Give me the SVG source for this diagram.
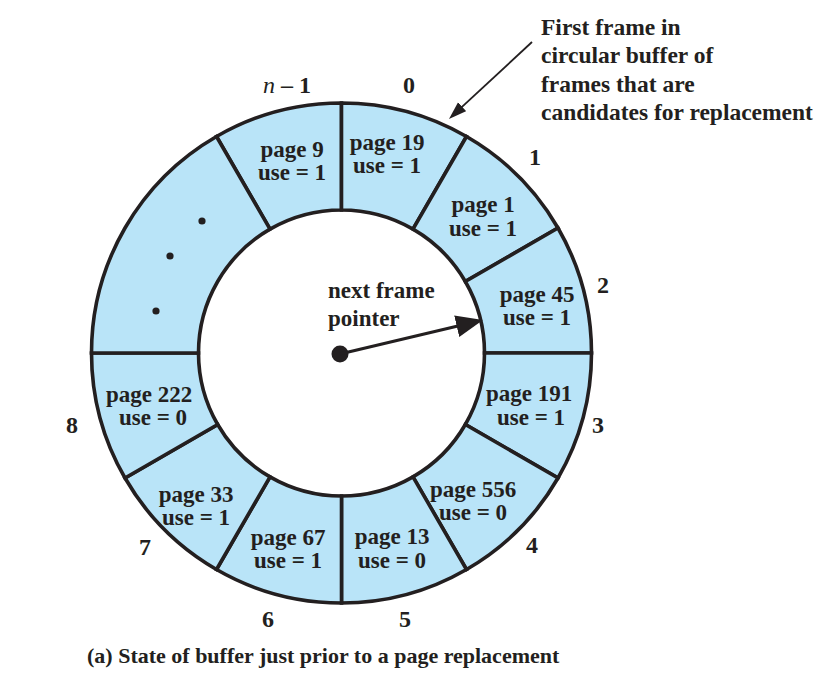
<svg xmlns="http://www.w3.org/2000/svg" width="833" height="681" viewBox="0 0 833 681">
<style>
.seg{fill:#b9e4f8;stroke:#231f20;stroke-width:3.6;stroke-linejoin:miter}
text{font-family:"Liberation Serif","Times New Roman",serif;font-weight:bold;fill:#231f20;font-size:23px}
.c{text-anchor:middle}
.num{text-anchor:middle;font-size:24px}
.ann{font-size:23.5px}
.cap{font-size:22px}
.line{stroke:#231f20;fill:none}
</style>
<defs>
<marker id="bigHead" markerUnits="userSpaceOnUse" markerWidth="28" markerHeight="24" refX="12" refY="11" orient="auto">
<path d="M0,0 L27,11 L0,22 Z" fill="#231f20"/>
</marker>
<marker id="smallHead" markerUnits="userSpaceOnUse" markerWidth="20" markerHeight="14" refX="8" refY="6" orient="auto">
<path d="M0,0 L18,6 L0,12 Z" fill="#231f20"/>
</marker>
</defs>
<rect width="833" height="681" fill="#ffffff"/>

<g id="frame-n-1">
<path class="seg" d="M216.5,136.5 A250,250 0 0 1 341.5,103 L341.5,210 A143,143 0 0 0 270,229.16 Z"/>
<text class="c" x="292" y="157">page 9</text>
<text class="c" x="292" y="180">use = 1</text>
<text class="num" x="287" y="93"><tspan font-style="italic" font-weight="normal">n</tspan> – 1</text>
</g>
<g id="frame-0">
<path class="seg" d="M341.5,103 A250,250 0 0 1 466.5,136.5 L413,229.16 A143,143 0 0 0 341.5,210 Z"/>
<text class="c" x="387" y="149.5">page 19</text>
<text class="c" x="387" y="172.5">use = 1</text>
<text class="num" x="409" y="93">0</text>
</g>
<g id="frame-1">
<path class="seg" d="M466.5,136.5 A250,250 0 0 1 558,228 L465.34,281.5 A143,143 0 0 0 413,229.16 Z"/>
<text class="c" x="483" y="212">page 1</text>
<text class="c" x="483" y="236">use = 1</text>
<text class="num" x="535" y="165">1</text>
</g>
<g id="frame-2">
<path class="seg" d="M558,228 A250,250 0 0 1 591.5,353 L484.5,353 A143,143 0 0 0 465.34,281.5 Z"/>
<text class="c" x="537" y="302">page 45</text>
<text class="c" x="537" y="325">use = 1</text>
<text class="num" x="603" y="293">2</text>
</g>
<g id="frame-3">
<path class="seg" d="M591.5,353 A250,250 0 0 1 558,478 L465.34,424.5 A143,143 0 0 0 484.5,353 Z"/>
<text class="c" x="529" y="401">page 191</text>
<text class="c" x="531" y="425">use = 1</text>
<text class="num" x="598" y="433">3</text>
</g>
<g id="frame-4">
<path class="seg" d="M558,478 A250,250 0 0 1 466.5,569.5 L413,476.84 A143,143 0 0 0 465.34,424.5 Z"/>
<text class="c" x="473" y="497">page 556</text>
<text class="c" x="473" y="520">use = 0</text>
<text class="num" x="532" y="553">4</text>
</g>
<g id="frame-5">
<path class="seg" d="M466.5,569.5 A250,250 0 0 1 341.5,603 L341.5,496 A143,143 0 0 0 413,476.84 Z"/>
<text class="c" x="392" y="544">page 13</text>
<text class="c" x="392" y="568">use = 0</text>
<text class="num" x="405" y="627">5</text>
</g>
<g id="frame-6">
<path class="seg" d="M341.5,603 A250,250 0 0 1 216.5,569.5 L270,476.84 A143,143 0 0 0 341.5,496 Z"/>
<text class="c" x="288" y="545">page 67</text>
<text class="c" x="288" y="568">use = 1</text>
<text class="num" x="268" y="627">6</text>
</g>
<g id="frame-7">
<path class="seg" d="M216.5,569.5 A250,250 0 0 1 125,478 L217.66,424.5 A143,143 0 0 0 270,476.84 Z"/>
<text class="c" x="196" y="501.5">page 33</text>
<text class="c" x="196" y="524.5">use = 1</text>
<text class="num" x="145" y="555">7</text>
</g>
<g id="frame-8">
<path class="seg" d="M125,478 A250,250 0 0 1 91.5,353 L198.5,353 A143,143 0 0 0 217.66,424.5 Z"/>
<text class="c" x="149" y="401.5">page 222</text>
<text class="c" x="153" y="424.5">use = 0</text>
<text class="num" x="72" y="433">8</text>
</g>
<g id="frames-ellipsis">
<path class="seg" d="M91.5,353 A250,250 0 0 1 216.5,136.5 L270,229.16 A143,143 0 0 0 198.5,353 Z"/>
<circle cx="202" cy="221" r="3.6" fill="#231f20"/>
<circle cx="170" cy="256" r="3.6" fill="#231f20"/>
<circle cx="156" cy="311" r="3.6" fill="#231f20"/>
</g>

<g id="pointer-label">
<text x="328" y="298">next frame</text>
<text x="328" y="326">pointer</text>
</g>
<g id="annotation">
<text class="ann" x="541" y="35">First frame in</text>
<text class="ann" x="541" y="63">circular buffer of</text>
<text class="ann" x="541" y="92">frames that are</text>
<text class="ann" x="541" y="120">candidates for replacement</text>
</g>

<g id="connectors">
<circle cx="340" cy="354" r="8.5" fill="#231f20"/>
<line class="line" x1="340" y1="354" x2="468.4" y2="323.5" stroke-width="3.2" marker-end="url(#bigHead)"/>
<line class="line" x1="532" y1="42" x2="456.3" y2="112.2" stroke-width="1.8" marker-end="url(#smallHead)"/>
</g>

<text class="cap" x="87" y="663">(a) State of buffer just prior to a page replacement</text>
</svg>
